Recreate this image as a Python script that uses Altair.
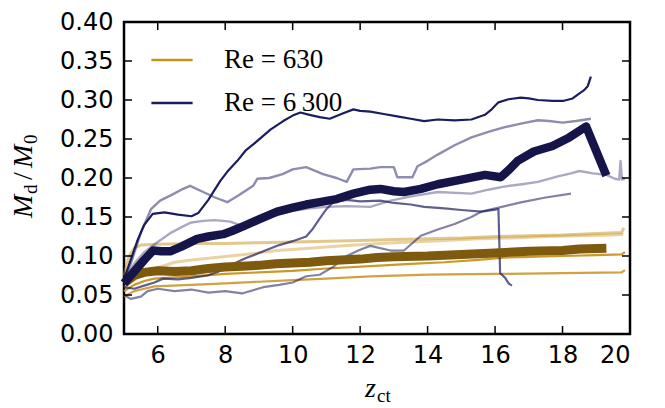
import altair as alt
import pandas as pd

# ---------------- data ----------------
X_TICKS = [6, 8, 10, 12, 14, 16, 18, 20]
Y_TICKS = [0.0, 0.05, 0.10, 0.15, 0.20, 0.25, 0.30, 0.35, 0.40]

LABEL_630 = "Re = 630"
LABEL_6300 = "Re = 6\u2009300"

NAVY_1 = [(5.0,0.070),(5.2,0.095),(5.4,0.120),(5.6,0.140),(5.85,0.154),(6.2,0.156),(6.6,0.153),(7.0,0.151),(7.2,0.155),(7.5,0.172),(7.85,0.196),(8.1,0.210),(8.36,0.222),(8.6,0.235),(8.83,0.243),(9.1,0.253),(9.34,0.262),(9.72,0.273),(10.0,0.280),(10.23,0.284),(10.5,0.281),(10.8,0.278),(11.1,0.276),(11.5,0.283),(11.8,0.288),(12.0,0.286),(12.3,0.285),(12.7,0.282),(13.1,0.279),(13.5,0.276),(13.9,0.273),(14.3,0.275),(14.8,0.274),(15.3,0.275),(15.7,0.281),(15.9,0.288),(16.1,0.297),(16.4,0.301),(16.76,0.303),(17.0,0.302),(17.27,0.300),(17.7,0.299),(18.04,0.299),(18.3,0.302),(18.45,0.307),(18.65,0.313),(18.75,0.318),(18.84,0.330)]
NAVY_2 = [(5.0,0.070),(5.2,0.090),(5.5,0.130),(5.8,0.160),(6.07,0.171),(6.4,0.178),(6.7,0.185),(6.96,0.190),(7.3,0.183),(7.7,0.175),(8.06,0.169),(8.4,0.178),(8.83,0.190),(8.95,0.199),(9.3,0.200),(9.7,0.205),(10.0,0.211),(10.4,0.214),(10.9,0.205),(11.3,0.200),(11.6,0.195),(11.8,0.211),(12.3,0.212),(12.6,0.214),(13.0,0.214),(13.1,0.201),(13.55,0.201),(13.7,0.215),(14.0,0.222),(14.3,0.230),(14.8,0.242),(15.3,0.252),(15.8,0.259),(16.26,0.265),(16.8,0.270),(17.27,0.274),(17.6,0.273),(18.0,0.271),(18.4,0.273),(18.84,0.276)]
NAVY_3 = [(5.0,0.070),(5.3,0.090),(5.6,0.105),(6.0,0.118),(6.4,0.130),(6.75,0.138),(7.0,0.143),(7.35,0.145),(7.7,0.146),(8.15,0.144),(8.53,0.138),(9.0,0.145),(9.5,0.152),(10.0,0.158),(10.5,0.161),(11.0,0.163),(11.6,0.164),(12.3,0.163),(12.9,0.171),(13.6,0.177),(14.3,0.182),(15.3,0.180),(15.8,0.185),(16.26,0.189),(16.8,0.192),(17.27,0.195),(17.86,0.202),(18.25,0.206),(18.5,0.209),(18.9,0.206),(19.3,0.204),(19.55,0.199),(19.68,0.198),(19.72,0.222),(19.76,0.198),(19.85,0.199)]
NAVY_4 = [(5.0,0.060),(5.3,0.058),(5.6,0.062),(5.9,0.066),(6.16,0.071),(6.6,0.070),(7.0,0.072),(7.47,0.075),(7.8,0.080),(8.15,0.088),(8.6,0.097),(9.13,0.106),(9.6,0.114),(10.0,0.119),(10.4,0.125),(10.6,0.135),(10.8,0.148),(11.0,0.160),(11.2,0.169),(11.6,0.172),(12.0,0.170),(12.6,0.171),(13.0,0.168),(13.5,0.166),(13.9,0.163),(14.5,0.161),(15.0,0.159),(15.6,0.157),(16.1,0.160),(16.15,0.078),(16.3,0.072),(16.4,0.065),(16.5,0.062)]
NAVY_5 = [(5.0,0.050),(5.2,0.045),(5.5,0.048),(5.7,0.055),(6.0,0.058),(6.5,0.055),(7.0,0.057),(7.5,0.053),(8.0,0.055),(8.5,0.052),(9.13,0.060),(9.6,0.063),(10.0,0.066),(10.4,0.074),(10.8,0.076),(11.2,0.086),(11.6,0.100),(12.0,0.108),(12.3,0.113),(12.9,0.107),(13.3,0.107),(13.8,0.126),(14.3,0.134),(14.8,0.141),(15.3,0.150),(15.6,0.157),(16.2,0.163),(16.8,0.169),(17.5,0.175),(18.25,0.180)]
NAVY_MEAN = [(5.0,0.065),(5.3,0.080),(5.6,0.095),(5.86,0.107),(6.1,0.106),(6.37,0.106),(6.7,0.112),(7.17,0.122),(7.5,0.125),(7.94,0.128),(8.2,0.132),(8.53,0.138),(9.0,0.147),(9.54,0.157),(10.0,0.162),(10.4,0.166),(10.8,0.169),(11.3,0.173),(11.8,0.180),(12.3,0.185),(12.6,0.186),(13.0,0.183),(13.3,0.182),(13.8,0.186),(14.3,0.192),(15.0,0.198),(15.7,0.204),(16.17,0.201),(16.4,0.210),(16.67,0.222),(17.15,0.234),(17.7,0.241),(18.2,0.252),(18.7,0.266),(19.3,0.203)]

GOLD_1 = [(5.0,0.075),(5.15,0.100),(5.3,0.110),(5.5,0.114),(6.0,0.115),(7.0,0.116),(8.0,0.116),(9.0,0.117),(10.0,0.118),(11.0,0.119),(12.0,0.120),(13.0,0.121),(14.0,0.122),(15.0,0.123),(16.0,0.125),(17.0,0.126),(18.0,0.127),(19.0,0.129),(19.75,0.130),(19.82,0.136)]
GOLD_2 = [(5.0,0.060),(5.5,0.075),(6.0,0.085),(6.5,0.092),(7.0,0.095),(7.5,0.097),(8.15,0.100),(9.0,0.104),(9.54,0.107),(10.5,0.110),(11.5,0.113),(12.6,0.116),(13.5,0.118),(14.5,0.120),(15.5,0.122),(16.5,0.123),(17.5,0.125),(18.5,0.126),(19.5,0.127),(19.8,0.128)]
GOLD_3 = [(5.0,0.055),(5.3,0.063),(5.6,0.068),(5.9,0.071),(7.0,0.074),(8.0,0.077),(9.0,0.079),(10.0,0.081),(11.0,0.084),(12.3,0.087),(13.5,0.090),(14.5,0.092),(15.5,0.095),(16.26,0.098),(17.0,0.099),(18.0,0.100),(19.0,0.101),(19.75,0.102),(19.85,0.105)]
GOLD_4 = [(5.0,0.048),(5.3,0.055),(5.6,0.058),(5.9,0.061),(7.0,0.063),(8.0,0.065),(9.0,0.067),(10.0,0.069),(11.0,0.071),(12.3,0.074),(14.0,0.076),(16.0,0.077),(18.0,0.078),(19.75,0.079),(19.85,0.082)]
GOLD_MEAN = [(5.0,0.065),(5.3,0.075),(5.6,0.079),(6.0,0.081),(6.5,0.080),(7.0,0.081),(7.5,0.084),(8.0,0.086),(8.5,0.087),(9.0,0.088),(9.5,0.090),(10.0,0.091),(10.5,0.092),(11.0,0.094),(12.0,0.096),(12.5,0.098),(13.0,0.099),(14.0,0.100),(15.0,0.102),(16.0,0.104),(17.0,0.106),(18.0,0.107),(18.5,0.109),(19.3,0.110)]

# ---------------- styling ----------------
NAVY = "#1c1c60"
NAVY_DARK = "#15154a"
GOLD = "#c8921e"
GOLD_DARK = "#7d5a0e"
KIND_DOMAIN = [LABEL_630, LABEL_6300, "mean630", "mean6300"]
KIND_RANGE = [GOLD, NAVY, GOLD_DARK, NAVY_DARK]

# (name, kind, points, opacity, width)
RUNS = [
    ("g1", LABEL_630, GOLD_1, 0.50, 3.0),
    ("g2", LABEL_630, GOLD_2, 0.40, 3.0),
    ("g3", LABEL_630, GOLD_3, 0.95, 2.2),
    ("g4", LABEL_630, GOLD_4, 0.85, 2.2),
    ("n1", LABEL_6300, NAVY_1, 1.00, 2.2),
    ("n2", LABEL_6300, NAVY_2, 0.50, 2.4),
    ("n3", LABEL_6300, NAVY_3, 0.38, 2.4),
    ("n4", LABEL_6300, NAVY_4, 0.70, 2.2),
    ("n5", LABEL_6300, NAVY_5, 0.55, 2.2),
    ("gm", "mean630", GOLD_MEAN, 1.0, 9.0),
    ("nm", "mean6300", NAVY_MEAN, 1.0, 8.5),
]

rows = []
for name, kind, pts, op, sw in RUNS:
    for i, (x, y) in enumerate(pts):
        rows.append({"run": name, "kind": kind, "x": x, "y": y, "i": i, "op": op, "sw": sw})
df = pd.DataFrame(rows)

W, H = 506, 312
TICK = 8
xs = alt.Scale(domain=[5, 20], nice=False, zero=False)
ys = alt.Scale(domain=[0, 0.4], nice=False, zero=False)

color_enc = alt.Color(
    "kind:N",
    scale=alt.Scale(domain=KIND_DOMAIN, range=KIND_RANGE),
    legend=alt.Legend(
        values=[LABEL_630, LABEL_6300], title=None, orient="none",
        legendX=26, legendY=16, symbolType="stroke", symbolSize=1700,
        symbolStrokeWidth=2.5, labelFont="Liberation Serif", labelFontSize=27,
        labelColor="black", rowPadding=8, labelOffset=30, padding=0,
        symbolOpacity=1,
    ),
)

X_AXIS = alt.Axis(orient="bottom", values=X_TICKS, format="d", ticks=False, tickSize=0,
                  domain=False, grid=False, title=None, labelPadding=9,
                  labelFont="DejaVu Sans", labelFontSize=24, labelColor="black")
Y_AXIS = alt.Axis(orient="left", values=Y_TICKS, format=".2f", ticks=False, tickSize=0,
                  domain=False, grid=False, title=None, labelPadding=11,
                  labelFont="DejaVu Sans", labelFontSize=24, labelColor="black")


def lines(kinds):
    sub = df[df["kind"].isin(kinds)]
    return alt.Chart(sub).mark_line(strokeCap="butt", strokeJoin="round").encode(
        x=alt.X("x:Q", scale=xs, axis=X_AXIS),
        y=alt.Y("y:Q", scale=ys, axis=Y_AXIS),
        color=color_enc,
        opacity=alt.Opacity("op:Q", scale=None),
        strokeWidth=alt.StrokeWidth("sw:Q", scale=None),
        detail="run:N",
        order="i:Q",
    )


xt = pd.DataFrame({"x": X_TICKS})
yt = pd.DataFrame({"y": Y_TICKS})
rule_kw = dict(color="black", strokeWidth=1.5)
ticks = [
    alt.Chart(xt).mark_rule(**rule_kw).encode(
        x=alt.X("x:Q", scale=xs, axis=X_AXIS), y=alt.value(H), y2=alt.value(H - TICK)),
    alt.Chart(xt).mark_rule(**rule_kw).encode(
        x=alt.X("x:Q", scale=xs, axis=X_AXIS), y=alt.value(0), y2=alt.value(TICK)),
    alt.Chart(yt).mark_rule(**rule_kw).encode(
        y=alt.Y("y:Q", scale=ys, axis=Y_AXIS), x=alt.value(0), x2=alt.value(TICK)),
    alt.Chart(yt).mark_rule(**rule_kw).encode(
        y=alt.Y("y:Q", scale=ys, axis=Y_AXIS), x=alt.value(W), x2=alt.value(W - TICK)),
]


def piece(txt, x, y, size, italic=False, angle=0):
    kw = dict(font="Liberation Serif", fontSize=size, align="left", baseline="alphabetic",
              color="black")
    if italic:
        kw["fontStyle"] = "italic"
    if angle:
        kw["angle"] = angle
    return alt.Chart(pd.DataFrame({"t": [txt]})).mark_text(**kw).encode(
        x=alt.value(x), y=alt.value(y), text="t:N")


BIG, SUB = 28, 19
titles = [
    # y title: M_d / M_0, rotated
    piece("M", -92, 196, BIG, True, 270),
    piece("d", -87, 172, SUB, False, 270),
    piece("/", -92, 158, BIG, False, 270),
    piece("M", -92, 146, BIG, True, 270),
    piece("0", -87, 122, SUB, False, 270),
    # x title: z_ct
    piece("z", 241, 375, BIG, True),
    piece("ct", 253, 380, SUB, False),
]

chart = alt.layer(
    lines([LABEL_630]),
    lines([LABEL_6300]),
    lines(["mean630"]),
    lines(["mean6300"]),
    *ticks,
    *titles,
).properties(
    width=W, height=H,
    padding={"left": 116, "top": 14, "right": 27, "bottom": 72},
    autosize=alt.AutoSizeParams(type="none"),
).configure_view(stroke="black", strokeWidth=2.5)

chart.save("out.html", embed_options={"renderer": "svg", "actions": False})
